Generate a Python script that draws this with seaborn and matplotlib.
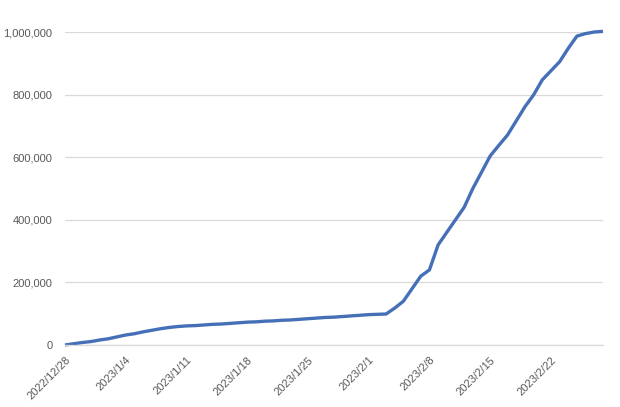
import pandas as pd
import matplotlib
matplotlib.use("Agg")
import matplotlib.pyplot as plt
import matplotlib.ticker as mticker
import seaborn as sns

# 1. Data (daily cumulative totals)
start_date = "2022-12-28"
values = [
    0, 4000, 8000, 11000, 16000, 20000, 26000,
    32000, 36000, 42000, 47000, 52000, 56000, 59000,
    61000, 62000, 64000, 66000, 67000, 69000, 71000,
    73000, 74000, 76000, 77000, 79000, 80000, 82000,
    84000, 86000, 88000, 89000, 91000, 93000, 95000,
    97000, 98000, 99000, 118000, 140000, 180000, 220000,
    240000, 320000, 360000, 400000, 440000, 500000, 552000,
    604000, 638000, 671000, 716000, 761000, 799000, 847000,
    876000, 905000, 948000, 987000, 995000, 1000000, 1002000,
]
tick_labels = ["2022/12/28", "2023/1/4", "2023/1/11", "2023/1/18", "2023/1/25",
               "2023/2/1", "2023/2/8", "2023/2/15", "2023/2/22"]
y_ticks = [0, 200000, 400000, 600000, 800000, 1000000]

dates = pd.date_range(start_date, periods=len(values), freq="D")
df = pd.DataFrame({"date": dates, "total": values})

# 2. Plot
sns.set_style("white")
plt.rcParams["font.family"] = ["Liberation Sans", "DejaVu Sans"]

fig = plt.figure(figsize=(6.2, 4.07), dpi=100)
ax = fig.add_axes([65 / 620, 62 / 407, 538 / 620, 313 / 407])

sns.lineplot(data=df, x="date", y="total", color="#4570b8", linewidth=2.4,
             ax=ax, clip_on=False, solid_capstyle="butt")

ax.set_xlim(dates[0], dates[-1])
ax.set_ylim(0, 1000000)

# x axis: a tick every 7 days, labels rotated like Excel
tick_dates = pd.to_datetime(tick_labels, format="%Y/%m/%d")
ax.set_xticks(tick_dates)
ax.set_xticklabels(tick_labels, rotation=45, ha="right", rotation_mode="anchor")
ax.set_xticks([dates[-1]], minor=True)
ax.tick_params(axis="x", which="both", length=4, width=0.8, color="#d9d9d9",
               labelsize=8, labelcolor="#595959", pad=3, direction="out")

ax.set_yticks(y_ticks)
ax.yaxis.set_major_formatter(mticker.FuncFormatter(lambda v, p: f"{v:,.0f}"))
ax.tick_params(axis="y", length=0, labelsize=8, labelcolor="#595959", pad=9)

ax.grid(axis="y", color="#d9d9d9", linewidth=0.9)
ax.set_axisbelow(True)
for side in ["top", "right", "left"]:
    ax.spines[side].set_visible(False)
ax.spines["bottom"].set_color("#d9d9d9")
ax.spines["bottom"].set_linewidth(0.9)

ax.set_xlabel("")
ax.set_ylabel("")

# 3. Save
fig.savefig("out.png", dpi=100)
